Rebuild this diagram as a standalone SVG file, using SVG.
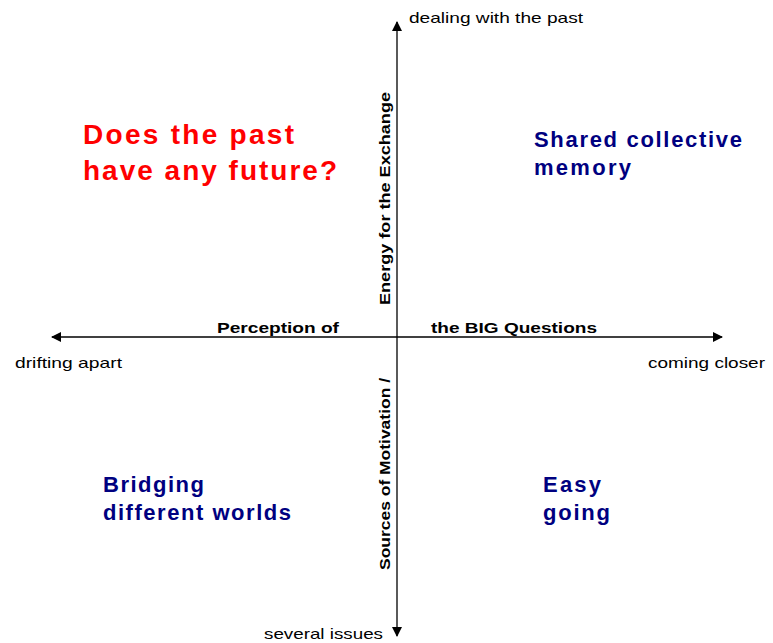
<svg xmlns="http://www.w3.org/2000/svg" width="773" height="643" viewBox="0 0 773 643">
<style>
.ax{stroke:#000;stroke-width:1.3;fill:none}
.lbl{font-family:"Liberation Sans",Arial,sans-serif;font-size:15px;fill:#000}
.axt{font-family:"Liberation Sans",Arial,sans-serif;font-size:15px;font-weight:bold;fill:#000}
.red{font-family:"Liberation Sans",Arial,sans-serif;font-size:28px;font-weight:bold;fill:#ff0000}
.blue{font-family:"Liberation Sans",Arial,sans-serif;font-size:22px;font-weight:bold;fill:#000080}
</style>
<defs>
<marker id="ah" markerWidth="10" markerHeight="10" refX="9" refY="5" orient="auto" markerUnits="userSpaceOnUse">
<path d="M0,0 L10,5 L0,10 Z" fill="#000"/>
</marker>
</defs>
<g id="connectors">
<line class="ax" x1="397" y1="337" x2="397" y2="22" marker-end="url(#ah)"/>
<line class="ax" x1="397" y1="337" x2="397" y2="636" marker-end="url(#ah)"/>
<line class="ax" x1="397" y1="337" x2="52" y2="337" marker-end="url(#ah)"/>
<line class="ax" x1="397" y1="337" x2="722" y2="337" marker-end="url(#ah)"/>
</g>
<g id="axis-labels">
<text class="lbl" x="409" y="23" textLength="174" lengthAdjust="spacingAndGlyphs">dealing with the past</text>
<text class="lbl" x="264" y="639" textLength="119" lengthAdjust="spacingAndGlyphs">several issues</text>
<text class="lbl" x="15" y="368" textLength="107" lengthAdjust="spacingAndGlyphs">drifting apart</text>
<text class="lbl" x="648" y="368" textLength="117" lengthAdjust="spacingAndGlyphs">coming closer</text>
<text class="axt" x="217" y="333" textLength="122" lengthAdjust="spacingAndGlyphs">Perception of</text>
<text class="axt" x="431" y="333" textLength="166" lengthAdjust="spacingAndGlyphs">the BIG Questions</text>
<text class="axt" transform="translate(390,305) rotate(-90)" x="0" y="0" textLength="213" lengthAdjust="spacingAndGlyphs">Energy for the Exchange</text>
<text class="axt" transform="translate(390,570) rotate(-90)" x="0" y="0" textLength="192" lengthAdjust="spacingAndGlyphs">Sources of Motivation /</text>
</g>
<g id="q-top-left">
<text class="red" x="83" y="144" textLength="211" lengthAdjust="spacing">Does the past</text>
<text class="red" x="83" y="180" textLength="254" lengthAdjust="spacing">have any future?</text>
</g>
<g id="q-top-right">
<text class="blue" x="534" y="147" textLength="208" lengthAdjust="spacing">Shared collective</text>
<text class="blue" x="534" y="175" textLength="97" lengthAdjust="spacing">memory</text>
</g>
<g id="q-bottom-left">
<text class="blue" x="103" y="492" textLength="101" lengthAdjust="spacing">Bridging</text>
<text class="blue" x="103" y="520" textLength="188" lengthAdjust="spacing">different worlds</text>
</g>
<g id="q-bottom-right">
<text class="blue" x="543" y="492" textLength="58" lengthAdjust="spacing">Easy</text>
<text class="blue" x="543" y="520" textLength="67" lengthAdjust="spacing">going</text>
</g>
</svg>
